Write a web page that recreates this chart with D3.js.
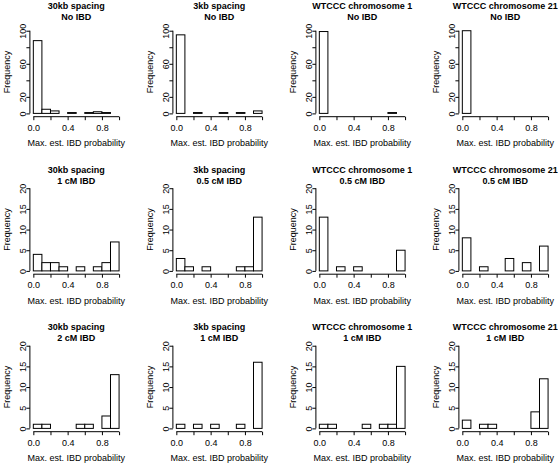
<!DOCTYPE html>
<html>
<head>
<meta charset="utf-8">
<script src="https://cdn.jsdelivr.net/npm/d3@7"></script>
<style>
html,body{margin:0;padding:0;background:#fff;}
svg{display:block;}
text{font-family:"Liberation Sans",Arial,Helvetica,sans-serif;fill:#000;}
</style>
</head>
<body>
<svg id="chart" width="558" height="464"></svg>
<script>
// ---------------- data ----------------
const binBreaks = [0, 0.1, 0.2, 0.3, 0.4, 0.5, 0.6, 0.7, 0.8, 0.9, 1.0];
const titleLine1 = ["30kb spacing", "3kb spacing", "WTCCC chromosome 1", "WTCCC chromosome 21"];
const titleLine2Row1 = ["No IBD", "No IBD", "No IBD", "No IBD"];
const titleLine2Row2 = ["1 cM IBD", "0.5 cM IBD", "0.5 cM IBD", "0.5 cM IBD"];
const titleLine2Row3 = ["2 cM IBD", "1 cM IBD", "1 cM IBD", "1 cM IBD"];

const counts30kbNoIBD   = [88, 5, 3, 0, 1, 0, 1, 2, 1, 0];
const counts3kbNoIBD    = [95, 0, 1, 0, 0, 1, 0, 1, 0, 3];
const countsChr1NoIBD   = [99, 0, 0, 0, 0, 0, 0, 0, 1, 0];
const countsChr21NoIBD  = [100, 0, 0, 0, 0, 0, 0, 0, 0, 0];
const counts30kb1cM     = [4, 2, 2, 1, 0, 1, 0, 1, 2, 7];
const counts3kb05cM     = [3, 1, 0, 1, 0, 0, 0, 1, 1, 13];
const countsChr105cM    = [13, 0, 1, 0, 1, 0, 0, 0, 0, 5];
const countsChr2105cM   = [8, 0, 1, 0, 0, 3, 0, 2, 0, 6];
const counts30kb2cM     = [1, 1, 0, 0, 0, 1, 1, 0, 3, 13];
const counts3kb1cM      = [1, 0, 1, 0, 1, 0, 0, 1, 0, 16];
const countsChr11cM     = [1, 1, 0, 0, 0, 1, 0, 1, 1, 15];
const countsChr211cM    = [2, 0, 1, 1, 0, 0, 0, 0, 4, 12];

const rowCounts = [
  [counts30kbNoIBD, counts3kbNoIBD, countsChr1NoIBD, countsChr21NoIBD],
  [counts30kb1cM, counts3kb05cM, countsChr105cM, countsChr2105cM],
  [counts30kb2cM, counts3kb1cM, countsChr11cM, countsChr211cM]
];
const rowTitle2 = [titleLine2Row1, titleLine2Row2, titleLine2Row3];

const rowYMax = [100, 20, 20];
const rowYTicks = [[0, 20, 40, 60, 80, 100], [0, 5, 10, 15, 20], [0, 5, 10, 15, 20]];
const rowYTickLabels = [["0", "20", "", "60", "", "100"], ["0", "5", "10", "15", "20"], ["0", "5", "10", "15", "20"]];
const xTicks = [0, 0.2, 0.4, 0.6, 0.8, 1.0];
const xTickLabels = ["0.0", "", "0.4", "", "0.8", ""];
const xAxisTitle = "Max. est. IBD probability";
const yAxisTitle = "Frequency";

// ---------------- layout ----------------
const colLeft = [29.9, 172.9, 315.9, 458.9];
const plotW = 92.6;
const rowTop = [27.4, 184.9, 342.4];
const plotH = 89.3;
const rowTitleY = [[6.3, 17], [170, 180.5], [327, 337.5]];
const fs = 9;

const svg = d3.select("#chart");

rowCounts.forEach((rowArr, r) => {
  rowArr.forEach((cnts, c) => {
    const L = colLeft[c], T = rowTop[r];
    const ymax = rowYMax[r];
    const x = d3.scaleLinear().domain([-0.04, 1.04]).range([L, L + plotW]);
    const y = d3.scaleLinear().domain([-0.04 * ymax, 1.04 * ymax]).range([T + plotH, T]);
    const g = svg.append("g");

    // bars
    const bins = cnts.map((v, i) => ({x0: binBreaks[i], x1: binBreaks[i + 1], v}));
    g.selectAll("rect.bar").data(bins).join("rect")
      .attr("class", "bar")
      .attr("x", d => x(d.x0))
      .attr("y", d => y(d.v))
      .attr("width", d => x(d.x1) - x(d.x0))
      .attr("height", d => y(0) - y(d.v))
      .attr("fill", "#fff")
      .attr("stroke", "#000")
      .attr("stroke-width", 1);

    // x axis
    const xa = g.append("g").attr("transform", `translate(0,${T + plotH})`)
      .call(d3.axisBottom(x).tickValues(xTicks).tickSize(3.5).tickPadding(2)
        .tickFormat((d, i) => xTickLabels[i]));
    xa.select(".domain").remove();
    xa.append("line").attr("x1", x(xTicks[0])).attr("x2", x(xTicks[xTicks.length - 1]))
      .attr("y1", 0).attr("y2", 0).attr("stroke", "#000");
    xa.selectAll(".tick line").attr("stroke", "#000");
    xa.selectAll("text").attr("font-size", fs).attr("y", 11).attr("dy", "0.35em")
      .style("font-family", "Liberation Sans, Arial, sans-serif").attr("fill", "#000");

    // y axis
    const yt = rowYTicks[r], ytl = rowYTickLabels[r];
    const ya = g.append("g").attr("transform", `translate(${L},0)`)
      .call(d3.axisLeft(y).tickValues(yt).tickSize(3.5)
        .tickFormat((d, i) => ytl[i]));
    ya.select(".domain").remove();
    ya.append("line").attr("x1", 0).attr("x2", 0)
      .attr("y1", y(yt[0])).attr("y2", y(yt[yt.length - 1])).attr("stroke", "#000");
    ya.selectAll(".tick line").attr("stroke", "#000");
    ya.selectAll("text").attr("font-size", fs).attr("x", 0).attr("y", -7).attr("dy", "0.35em")
      .attr("text-anchor", "middle").attr("transform", "rotate(-90)")
      .style("font-family", "Liberation Sans, Arial, sans-serif").attr("fill", "#000");

    // axis titles
    g.append("text").attr("x", x(0.5)).attr("y", T + plotH + 26.5).attr("dy", "0.35em")
      .attr("text-anchor", "middle").attr("font-size", fs).text(xAxisTitle);
    g.append("text").attr("transform", `translate(${L - 23.5},${y(ymax / 2)}) rotate(-90)`)
      .attr("dy", "0.35em").attr("text-anchor", "middle").attr("font-size", fs).text(yAxisTitle);

    // titles
    g.append("text").attr("x", x(0.5)).attr("y", rowTitleY[r][0]).attr("dy", "0.35em")
      .attr("text-anchor", "middle").attr("font-size", fs).attr("font-weight", "bold")
      .text(titleLine1[c]);
    g.append("text").attr("x", x(0.5)).attr("y", rowTitleY[r][1]).attr("dy", "0.35em")
      .attr("text-anchor", "middle").attr("font-size", fs).attr("font-weight", "bold")
      .text(rowTitle2[r][c]);
  });
});
</script>
</body>
</html>
